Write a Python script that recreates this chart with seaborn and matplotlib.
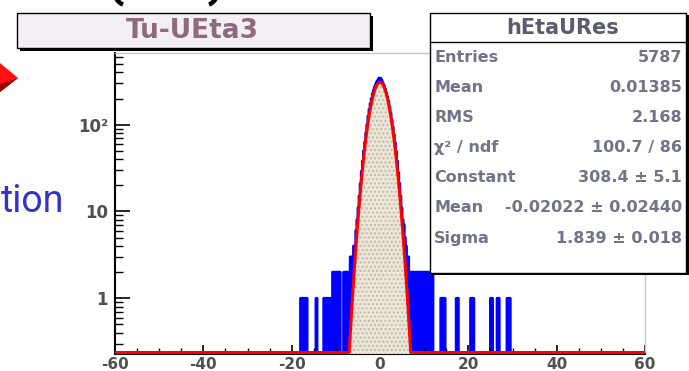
"""Recreate the ROOT eta-resolution histogram (Tu-UEta3) with seaborn."""
import numpy as np
import matplotlib

matplotlib.use("Agg")
import matplotlib.pyplot as plt
from matplotlib.patches import Rectangle, Polygon, Arc
from matplotlib.ticker import FixedLocator, MultipleLocator, LogLocator, NullFormatter
import seaborn as sns

# histogram: 0.25 wide bins from -60 to 60
bin_width = 0.25
core_first_center = -7.375
core_counts = [
    2, 2, 2, 3, 3, 3, 4, 4, 6, 8,
    11, 15, 21, 29, 38, 50, 63, 80, 100, 125,
    150, 175, 200, 228, 252, 275, 296, 315, 330, 345,
    340, 322, 300, 282, 258, 235, 210, 186, 160, 136,
    114, 94, 77, 62, 49, 38, 28, 21, 15, 11,
    8, 7, 5, 4, 3, 3, 2, 2, 2, 2,
]
tail_centers = [
    -17.875, -17.625, -17.375, -17.125, -16.875, -16.625,
    -14.375,
    -12.625, -12.375, -12.125, -11.875, -11.625, -11.375,
    -10.625, -10.375, -10.125, -9.875, -9.625, -9.375, -9.125,
    -8.125, -7.875, -7.625,
    7.625, 7.875, 8.125, 8.375, 8.625, 8.875, 9.125, 9.375, 9.625, 9.875,
    10.125, 10.375, 10.625, 10.875, 11.125, 11.375, 11.625, 11.875,
    13.875, 14.125, 14.375, 14.625,
    17.375, 17.625,
    20.625, 20.875, 21.125,
    25.125, 25.375,
    26.625, 26.875,
    28.875, 29.125, 29.375,
]
tail_counts = [
    1, 1, 1, 1, 1, 1,
    1,
    1, 1, 1, 1, 1, 1,
    2, 2, 2, 2, 2, 2, 2,
    2, 2, 2,
    2, 1, 2, 2, 2, 2, 2, 2, 1, 2,
    2, 2, 2, 2, 2, 2, 2, 2,
    1, 1, 1, 1,
    1, 1,
    1, 1, 1,
    1, 1,
    1, 1,
    1, 1, 1,
]

# gaussian fit parameters (from the stats box)
fit_const = 308.4
fit_mean = -0.02022
fit_sigma = 1.839

hist_name = "hEtaURes"
stats_labels = ["Entries", "Mean", "RMS", "χ² / ndf", "Constant", "Mean", "Sigma"]
stats_values = ["5787", "0.01385", "2.168", "100.7 / 86", "308.4 ± 5.1",
                "-0.02022 ± 0.02440", "1.839 ± 0.018"]
title = "Tu-UEta3"
x_ticks = [-60, -40, -20, 0, 20, 40, 60]
y_ticks = [1, 10, 100]
y_ticklabels = ["1", "10", "10²"]
x_range = (-60, 60)
y_range = (0.228, 670)

W, H = 689, 371


def fx(px):
    return px / W


def fy(py):
    return 1 - py / H


centers = np.concatenate([core_first_center + bin_width * np.arange(len(core_counts)), tail_centers])
counts = np.concatenate([core_counts, tail_counts])

fig = plt.figure(figsize=(W / 100, H / 100), dpi=100)
ax = fig.add_axes([fx(115), fy(354), fx(645) - fx(115), fy(53) - fy(354)])
ax.set_yscale("log")

sns.histplot(x=centers, weights=counts, binwidth=bin_width, binrange=x_range,
             element="step", fill=True, color="#0000ff", alpha=1.0,
             edgecolor="#0000ff", linewidth=2.0, ax=ax)

xs = np.linspace(x_range[0], x_range[1], 6001)
gauss = fit_const * np.exp(-0.5 * ((xs - fit_mean) / fit_sigma) ** 2)
ax.fill_between(xs, y_range[0], gauss, where=gauss > y_range[0], facecolor="#ebe6d8",
                edgecolor="#c4bba6", hatch="....", linewidth=0, zorder=3)
ax.plot(xs, np.clip(gauss, y_range[0] * 1.04, None), color="#ff0000", lw=2.2, zorder=4)

ax.set_xlim(x_range)
ax.set_ylim(y_range)
ax.set_xlabel("")
ax.set_ylabel("")

ax.xaxis.set_major_locator(FixedLocator(x_ticks))
ax.xaxis.set_minor_locator(MultipleLocator(5))
ax.set_xticklabels([str(t) for t in x_ticks])
ax.yaxis.set_major_locator(FixedLocator(y_ticks))
ax.set_yticklabels(y_ticklabels)
ax.yaxis.set_minor_locator(LogLocator(base=10, subs=np.arange(2, 10)))
ax.yaxis.set_minor_formatter(NullFormatter())

ax.tick_params(axis="x", which="major", direction="in", length=6.5, width=1.2,
               labelsize=11, labelcolor="#505050", pad=2, top=False)
ax.tick_params(axis="x", which="minor", direction="in", length=4, width=1.0, top=False)
ax.tick_params(axis="y", which="major", direction="in", length=11, width=1.2,
               labelsize=12, labelcolor="#505050", pad=5, right=False)
ax.tick_params(axis="y", which="minor", direction="in", length=6, width=1.0, right=False)
for lab in ax.get_xticklabels() + ax.get_yticklabels():
    lab.set_fontweight("bold")

ax.spines["left"].set_linewidth(1.5)
ax.spines["bottom"].set_linewidth(1.5)
for side in ("top", "right"):
    ax.spines[side].set_color("#c8c8c8")
    ax.spines[side].set_linewidth(1.0)

# title box with ROOT-style shadow
fig.add_artist(Rectangle((fx(20), fy(51)), fx(370) - fx(17), fy(13) - fy(48),
                         transform=fig.transFigure, facecolor="black", edgecolor="none", zorder=5))
fig.add_artist(Rectangle((fx(17), fy(48)), fx(370) - fx(17), fy(13) - fy(48),
                         transform=fig.transFigure, facecolor="#f4eff4", edgecolor="black",
                         linewidth=1.0, zorder=6))
fig.text(fx(192), fy(31), title, ha="center", va="center", fontsize=19,
         fontweight="bold", color="#8e6a7e", zorder=7)

# stats box
fig.add_artist(Rectangle((fx(432), fy(275)), fx(688) - fx(430), fy(13) - fy(273),
                         transform=fig.transFigure, facecolor="black", edgecolor="none", zorder=5))
fig.add_artist(Rectangle((fx(430), fy(273)), fx(686) - fx(430), fy(13) - fy(273),
                         transform=fig.transFigure, facecolor="white", edgecolor="black",
                         linewidth=1.0, zorder=6))
fig.add_artist(plt.Line2D([fx(430), fx(686)], [fy(42), fy(42)], transform=fig.transFigure,
                          color="black", lw=1.0, zorder=7))
fig.text(fx(563), fy(27.5), hist_name, ha="center", va="center", fontsize=15,
         fontweight="bold", color="#5b5b70", zorder=7)
for i, (lab, val) in enumerate(zip(stats_labels, stats_values)):
    yy = fy(57 + 30.2 * i)
    fig.text(fx(434), yy, lab, ha="left", va="center", fontsize=11.5,
             fontweight="bold", color="#737388", zorder=7)
    fig.text(fx(682), yy, val, ha="right", va="center", fontsize=11.5,
             fontweight="bold", color="#737388", zorder=7)

# bits of the surrounding slide that show in the crop
fig.add_artist(Polygon([(fx(0), fy(63)), (fx(18), fy(78)), (fx(0), fy(92))],
                       closed=True, transform=fig.transFigure, facecolor="#ff1010",
                       edgecolor="none", zorder=5))
fig.add_artist(Polygon([(fx(0), fy(84)), (fx(18), fy(78)), (fx(0), fy(92))],
                       closed=True, transform=fig.transFigure, facecolor="#a00000",
                       edgecolor="none", zorder=5))
fig.text(fx(64), fy(212), "tion", ha="right", va="baseline", fontsize=27,
         family="Roboto", color="#3333cc")
# lower ends of a pair of brackets cut by the top edge
fig.add_artist(Arc((fx(126), fy(-14)), fx(26), fy(0) - fy(38), theta1=200, theta2=265,
                   transform=fig.transFigure, color="black", lw=3.2, zorder=5))
fig.add_artist(Arc((fx(206), fy(-14)), fx(26), fy(0) - fy(38), theta1=275, theta2=340,
                   transform=fig.transFigure, color="black", lw=3.2, zorder=5))

fig.savefig("out.png", dpi=100)
